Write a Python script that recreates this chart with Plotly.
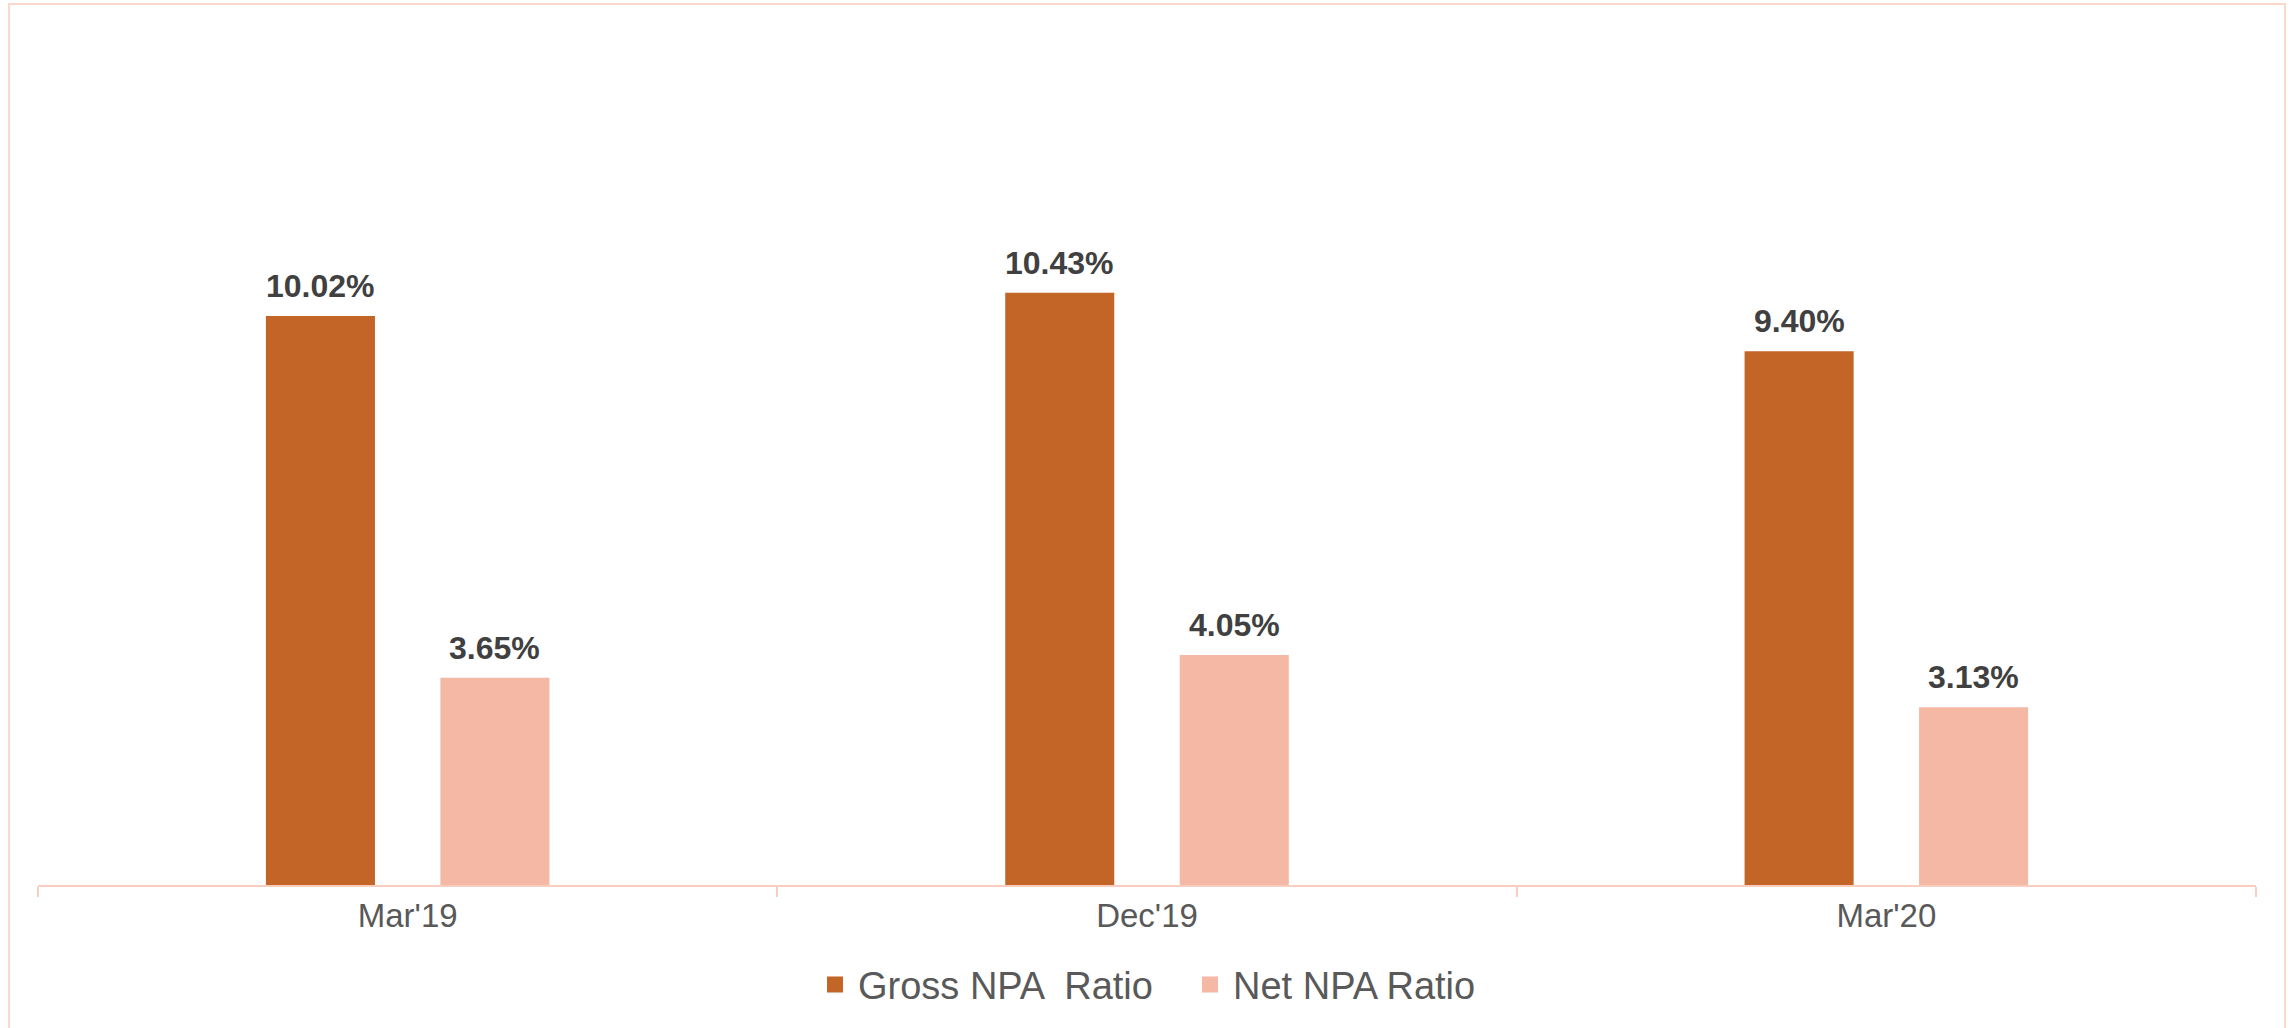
import plotly.graph_objects as go

categories = ["Mar'19", "Dec'19", "Mar'20"]
gross_npa = [10.02, 10.43, 9.40]
net_npa = [3.65, 4.05, 3.13]
series_names = ["Gross NPA  Ratio", "Net NPA Ratio"]
series_colors = ["#C46528", "#F4B8A5"]
series_values = [gross_npa, net_npa]

W, H = 2292, 1028
ML, MR, MT, MB = 38, 36, 40, 143
FONT = "Liberation Sans, Arial, sans-serif"
AXIS_COLOR = "#F9CDBF"
BORDER_COLOR = "#FCD7CC"
BARGAP, BARGROUPGAP = 0.528, 0.375

plot_w = W - ML - MR
plot_h = H - MT - MB
slot_px = plot_w / len(categories) * (1 - BARGAP) / len(series_values)

fig = go.Figure()
annotations = []
for i, (name, vals, col) in enumerate(zip(series_names, series_values, series_colors)):
    fig.add_trace(go.Bar(
        x=categories, y=vals, name=name, showlegend=False,
        marker=dict(color=col, line=dict(width=0)),
    ))
    # legend proxy (bigger square symbol)
    fig.add_trace(go.Scatter(
        x=[None], y=[None], name=name, mode="markers",
        marker=dict(symbol="square", size=16, color=col),
    ))
    for c, v in zip(categories, vals):
        annotations.append(dict(
            x=c, y=v, xref="x", yref="y",
            text=f"<b>{v:.2f}%</b>", showarrow=False,
            xanchor="center", yanchor="bottom",
            xshift=(i - (len(series_values) - 1) / 2) * slot_px, yshift=10,
            font=dict(family=FONT, size=32, color="#404040"),
        ))

fig.update_layout(
    width=W, height=H,
    margin=dict(l=ML, r=MR, t=MT, b=MB),
    paper_bgcolor="white", plot_bgcolor="white",
    barmode="group", bargap=BARGAP, bargroupgap=BARGROUPGAP,
    showlegend=True,
    legend=dict(
        orientation="h", x=(812 - ML) / plot_w, xanchor="left",
        y=-0.118, yanchor="middle",
        font=dict(family=FONT, size=38, color="#595959"),
        itemwidth=36, traceorder="normal", entrywidth=324,
    ),
    xaxis=dict(
        showline=True, linecolor=AXIS_COLOR, linewidth=2,
        ticks="outside", tickson="boundaries", ticklen=10,
        tickcolor=AXIS_COLOR, tickwidth=2,
        tickfont=dict(family=FONT, size=33, color="#595959"),
        showgrid=False, zeroline=False,
    ),
    yaxis=dict(
        range=[0, 14.88], visible=False, showgrid=False, zeroline=False,
    ),
    annotations=annotations,
    shapes=[dict(
        type="rect", xref="paper", yref="paper",
        x0=(9 - ML) / plot_w, x1=(2285 - ML) / plot_w,
        y0=(H - MB - 1040) / plot_h, y1=(H - MB - 4) / plot_h,
        line=dict(color=BORDER_COLOR, width=2), fillcolor="rgba(0,0,0,0)",
        layer="below",
    )],
)

fig.write_html(
    "out.html",
    config={"displayModeBar": False},
    post_script="document.body.style.margin='0';document.body.style.overflow='hidden';",
)
